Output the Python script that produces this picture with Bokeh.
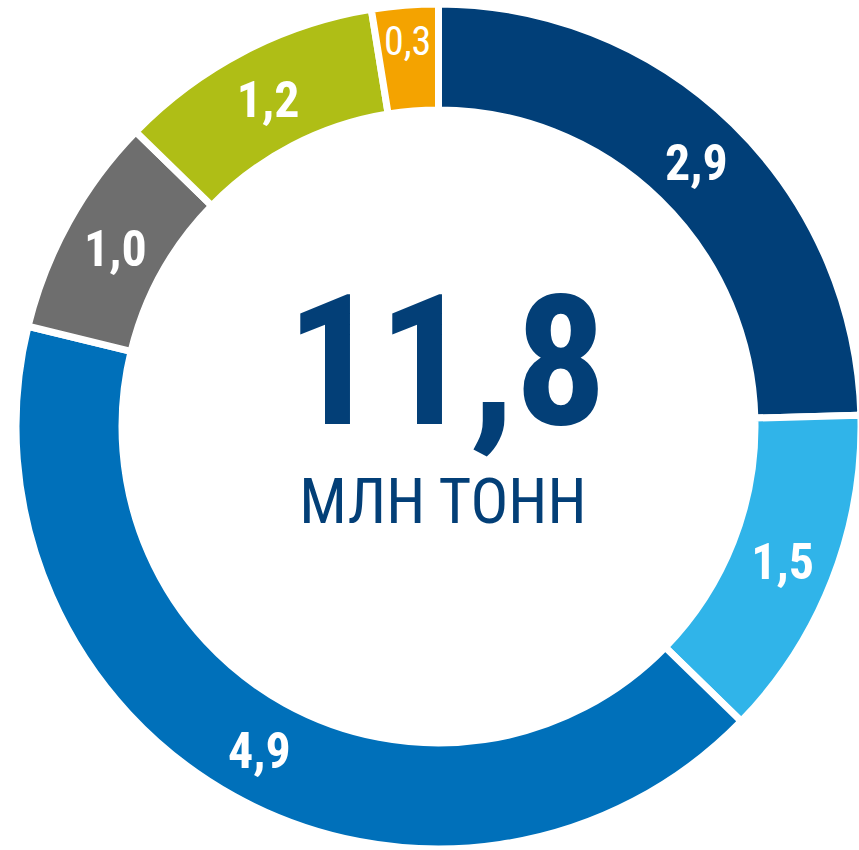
import math
from bokeh.plotting import figure
from bokeh.models import Range1d, ColumnDataSource
from bokeh.core.properties import value
from bokeh.embed import file_html
from bokeh.resources import INLINE

# ---- data ----
labels = ["2,9", "1,5", "4,9", "1,0", "1,2", "0,3"]
values = [2.9, 1.5, 4.9, 1.0, 1.2, 0.3]
colors = ["#013F78", "#30B4E9", "#0070BA", "#6E6E6E", "#AFBE16", "#F4A300"]
total_label = "11,8"
unit_label = "МЛН ТОНН"

FONT = "Roboto Condensed"
W, H = 859, 850
cx, cy = 438, H - 426
r_out, r_in = 419, 320
gap = 7
BL = 0.35  # baseline correction (fraction of font size)

total = sum(values)
starts, ends, lx, ly, lsize, lstyle = [], [], [], [], [], []
acc = 0.0
for v in values:
    t1 = acc / total * 2 * math.pi
    t2 = (acc + v) / total * 2 * math.pi
    acc += v
    starts.append(math.pi / 2 - t2)
    ends.append(math.pi / 2 - t1)
    tm = (t1 + t2) / 2
    small = v < 0.5
    rl = (r_out + r_in) / 2 + (18 if small else 0)
    fs = 40 if small else 50
    lx.append(cx + rl * math.sin(tm))
    ly.append(cy + rl * math.cos(tm) - 0.711 * fs / 2 + BL * fs)
    lsize.append(f"{fs}px")
    lstyle.append("normal" if small else "bold")

src = ColumnDataSource(dict(start=starts, end=ends, color=colors,
                            x=[cx] * len(values), y=[cy] * len(values)))
lsrc = ColumnDataSource(dict(x=lx, y=ly, text=labels, size=lsize, style=lstyle))

p = figure(width=W, height=H, x_range=Range1d(0, W), y_range=Range1d(0, H),
           output_backend="svg", toolbar_location=None, min_border=0)
p.axis.visible = False
p.grid.visible = False
p.outline_line_color = None
p.background_fill_color = "white"
p.border_fill_color = "white"

p.annular_wedge(x="x", y="y", inner_radius=r_in - gap / 2, outer_radius=r_out + gap / 2,
                start_angle="start", end_angle="end", fill_color="color",
                line_color="white", line_width=gap, source=src)

p.text(x="x", y="y", text="text", source=lsrc, text_color="white",
       text_font=value(FONT), text_font_style="style", text_font_size="size",
       text_align="center", text_baseline="alphabetic")

big_fs = 182
p.text(x=[446], y=[H - 422 + BL * big_fs], text=[total_label], text_color="#033F77",
       text_font=value(FONT), text_font_style="bold", text_font_size=f"{big_fs}px",
       text_align="center", text_baseline="alphabetic")
unit_fs = 63
p.text(x=[443], y=[H - 523 + BL * unit_fs], text=[unit_label], text_color="#033F77",
       text_font=value(FONT), text_font_style="normal", text_font_size=f"{unit_fs}px",
       text_align="center", text_baseline="alphabetic")

open("out.html", "w").write(file_html(p, INLINE))
